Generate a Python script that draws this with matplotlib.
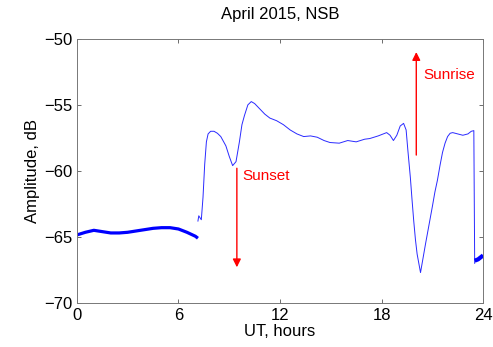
import matplotlib
matplotlib.use("Agg")
import matplotlib.pyplot as plt

plt.rcParams['font.family'] = ['Liberation Sans', 'DejaVu Sans']

# night-time signal (noisy band), UT hours / dB
night_t = [0, 0.5, 1.0, 1.5, 2.0, 2.5, 3.0, 3.5, 4.0, 4.5, 5.0, 5.5, 6.0, 6.5, 7.0, 7.15]
night_a = [-64.85, -64.65, -64.5, -64.6, -64.7, -64.7, -64.65, -64.55, -64.45,
           -64.35, -64.3, -64.3, -64.4, -64.65, -64.95, -65.1]

# daytime signal
day_t = [7.15, 7.2, 7.35, 7.45, 7.55, 7.65, 7.75, 7.9, 8.1, 8.3, 8.5, 8.8, 9.0,
         9.2, 9.4, 9.6, 9.75, 9.9, 10.1, 10.3, 10.5, 10.8, 11.1, 11.4, 11.8, 12.2,
         12.6, 13.0, 13.4, 13.8, 14.2, 14.6, 14.95, 15.5, 16.0, 16.5, 17.0, 17.3,
         17.8, 18.3, 18.5, 18.7, 18.9, 19.1, 19.3, 19.45, 19.55, 19.7, 19.8, 19.9,
         20.0, 20.1, 20.2, 20.3, 20.45, 20.6, 20.8, 21.0, 21.15, 21.3, 21.45, 21.6,
         21.75, 21.9, 22.05, 22.2, 22.5, 22.8, 23.1, 23.3, 23.45, 23.5]
day_a = [-63.8, -63.4, -63.7, -62.0, -59.5, -57.8, -57.2, -57.0, -57.0, -57.15,
         -57.4, -58.1, -58.9, -59.6, -59.3, -57.8, -56.5, -55.8, -55.0, -54.75,
         -54.9, -55.3, -55.7, -56.0, -56.2, -56.5, -56.9, -57.2, -57.4, -57.35,
         -57.45, -57.7, -57.85, -57.9, -57.7, -57.8, -57.6, -57.55, -57.35, -57.1,
         -57.3, -57.7, -57.3, -56.6, -56.4, -56.9, -58.4, -60.5, -62.2, -63.8,
         -65.2, -66.3, -67.0, -67.7, -66.6, -65.5, -64.1, -62.7, -61.6, -60.7,
         -59.6, -58.6, -57.9, -57.4, -57.15, -57.1, -57.2, -57.3, -57.2, -57.0,
         -56.95, -67.0]

# night again after the drop
late_t = [23.5, 23.7, 23.9, 24.0]
late_a = [-66.8, -66.7, -66.5, -66.4]

# terminator markers: (time, arrow start, arrow end)
sunset = (9.45, -59.8, -67.3)
sunrise = (20.05, -58.8, -51.0)

fig = plt.figure(figsize=(4.93, 3.47), dpi=100)
ax = fig.add_axes([0.156, 0.127, 0.824, 0.761])

ax.plot(night_t, night_a, color='b', lw=2.3, solid_capstyle='butt')
ax.plot(day_t, day_a, color='#2a2aff', lw=0.7)
ax.plot(late_t, late_a, color='b', lw=3.0, solid_capstyle='butt')

for (t, a0, a1), name, dx, ty in [(sunset, 'Sunset', 0.3, -60.4),
                                  (sunrise, 'Sunrise', 0.4, -52.7)]:
    ax.annotate('', xy=(t, a1), xytext=(t, a0),
                arrowprops=dict(arrowstyle='-|>', color='red', lw=1.0,
                                mutation_scale=12, shrinkA=0, shrinkB=0))
    ax.text(t + dx, ty, name, color='red', fontsize=11, va='center', ha='left')

ax.set_xlim(0, 24)
ax.set_ylim(-70, -50)
ax.set_xticks([0, 6, 12, 18, 24])
ax.set_yticks([-70, -65, -60, -55, -50])
ax.tick_params(direction='in', top=True, right=True, length=3,
               labelsize=12, color='#555555', width=0.6)
for s in ax.spines.values():
    s.set_color('#777777')
    s.set_linewidth(0.7)

ax.set_xlabel('UT, hours', fontsize=12, labelpad=1)
ax.set_ylabel('Amplitude, dB', fontsize=12, labelpad=3)
ax.set_title('April 2015, NSB', fontsize=12, pad=14)

fig.savefig('out.png', dpi=100)
